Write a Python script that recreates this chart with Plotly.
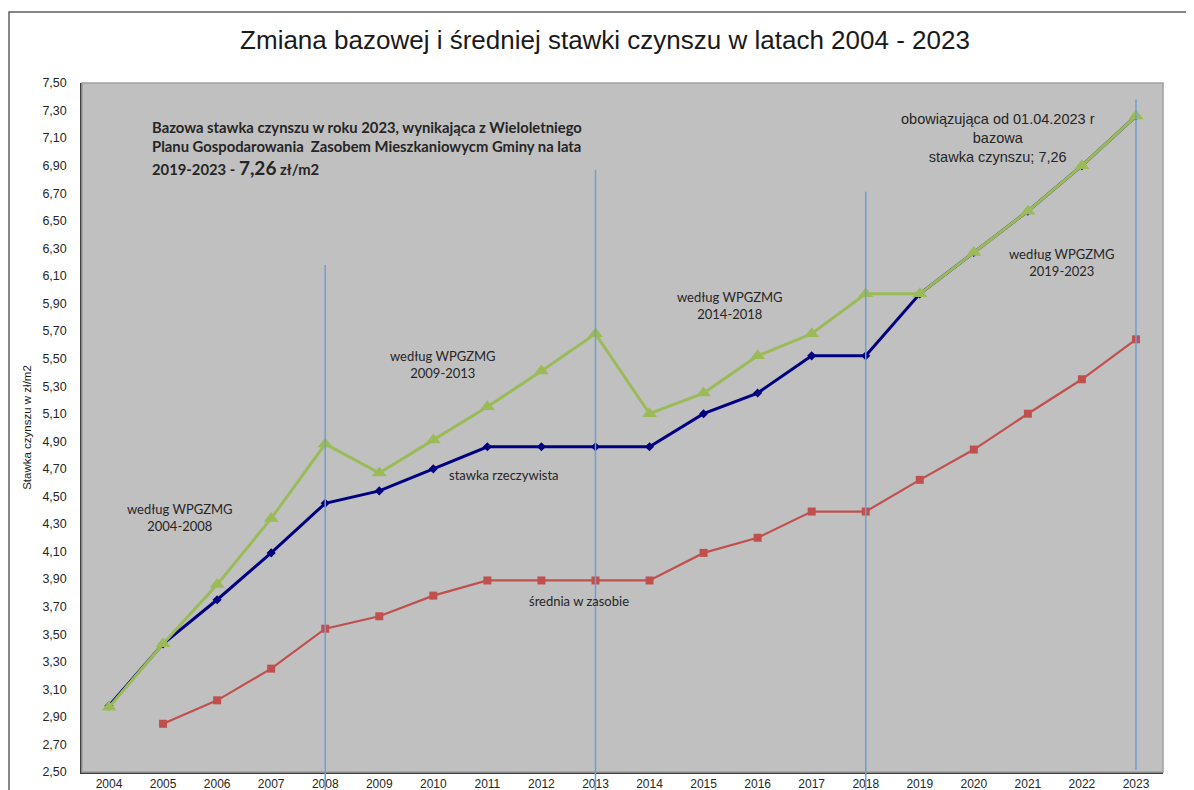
import plotly.graph_objects as go

years = list(range(2004, 2024))
plan_rate = [2.97, 3.43, 3.86, 4.34, 4.88, 4.67, 4.91, 5.15, 5.41, 5.68,
             5.10, 5.25, 5.52, 5.68, 5.97, 5.97, 6.27, 6.57, 6.90, 7.26]
actual_rate = [2.98, 3.43, 3.75, 4.09, 4.45, 4.54, 4.70, 4.86, 4.86, 4.86,
               4.86, 5.10, 5.25, 5.52, 5.52, 5.97, 6.27, 6.57, 6.90, 7.26]
avg_years = list(range(2005, 2024))
avg_rate = [2.85, 3.02, 3.25, 3.54, 3.63, 3.78, 3.89, 3.89, 3.89, 3.89,
            4.09, 4.20, 4.39, 4.39, 4.62, 4.84, 5.10, 5.35, 5.64]
period_years = [2008, 2013, 2018, 2023]
period_tops = [6.18, 6.87, 6.71, 7.38]
y_ticks = [round(2.5 + 0.2 * i, 2) for i in range(26)]

YMIN, YMAX = 2.5, 7.5
OFF = 8  # page body margin in the browser
W, H = 1194 - OFF, 790 - OFF
L, R, T, B = 82 - OFF, 1163 - OFF, 83 - OFF, 772 - OFF

def py(v):
    return (v - YMIN) / (YMAX - YMIN)

def ppx(px):  # reference pixel -> paper x
    return (px - OFF - L) / (R - L)

def ppy(pyx):  # reference pixel -> paper y
    return (B - (pyx - OFF)) / (B - T)

fig = go.Figure()

fig.add_trace(go.Scatter(x=years, y=actual_rate, mode="lines+markers",
                         line=dict(color="#000080", width=3),
                         marker=dict(symbol="diamond", size=7, color="#000080"),
                         name="stawka rzeczywista"))
fig.add_trace(go.Scatter(x=years, y=plan_rate, mode="lines+markers",
                         line=dict(color="#9bbb59", width=3),
                         marker=dict(symbol="triangle-up", size=13, color="#9bbb59"),
                         name="według WPGZMG"))
fig.add_trace(go.Scatter(x=avg_years, y=avg_rate, mode="lines+markers",
                         line=dict(color="#c0504d", width=2.2),
                         marker=dict(symbol="square", size=8, color="#c0504d"),
                         name="średnia w zasobie"))

shapes = []
# outer chart frame
shapes.append(dict(type="rect", xref="paper", yref="paper",
                   x0=ppx(9), x1=1.1, y0=-0.2, y1=ppy(12),
                   line=dict(color="#606060", width=1.5), fillcolor="rgba(0,0,0,0)",
                   layer="below"))
# plot area border (light top/right)
shapes.append(dict(type="rect", xref="paper", yref="paper", x0=0, x1=1, y0=0, y1=1,
                   line=dict(color="#a0a0a0", width=1.5), fillcolor="rgba(0,0,0,0)"))
for yr, top in zip(period_years, period_tops):
    bottom = ppy(792) if yr != 2023 else ppy(770)
    shapes.append(dict(type="line", xref="x", yref="paper", x0=yr, x1=yr,
                       y0=bottom, y1=py(top),
                       line=dict(color="#6a9fd8", width=1.5)))

cal = "Lato, Open Sans, sans-serif"
ar = "Liberation Sans, Arial, sans-serif"
txt = "#262626"
bold_lines = [
    ("<b>Bazowa stawka czynszu w roku 2023, wynikająca z Wieloletniego</b>", 127),
    ("<b>Planu Gospodarowania  Zasobem Mieszkaniowycm Gminy na lata</b>", 146),
    ("<b>2019-2023 - <span style='font-size:19px'>7,26</span> zł/m2</b>", 168),
]
annotations = []
for t, ypix in bold_lines:
    annotations.append(dict(x=ppx(150), y=ppy(ypix), xref="paper", yref="paper",
                            xanchor="left", yanchor="middle", align="left", showarrow=False,
                            text=t, font=dict(family=cal, size=14.8, color=txt)))
annotations += [
    dict(x=2005.31, y=4.35, text="według WPGZMG<br>2004-2008", showarrow=False,
         font=dict(family=cal, size=13, color=txt)),
    dict(x=2010.17, y=5.46, text="według WPGZMG<br>2009-2013", showarrow=False,
         font=dict(family=cal, size=13, color=txt)),
    dict(x=2015.49, y=5.885, text="według WPGZMG<br>2014-2018", showarrow=False,
         font=dict(family=cal, size=13, color=txt)),
    dict(x=2021.63, y=6.20, text="według WPGZMG<br>2019-2023", showarrow=False,
         font=dict(family=cal, size=13, color=txt)),
    dict(x=2011.30, y=4.655, text="stawka rzeczywista", showarrow=False,
         font=dict(family=cal, size=13, color=txt)),
    dict(x=2012.70, y=3.74, text="średnia w zasobie", showarrow=False,
         font=dict(family=cal, size=13, color=txt)),
    dict(x=2020.44, y=7.10, text="obowiązująca od 01.04.2023 r<br>bazowa<br>stawka czynszu; 7,26",
         showarrow=False, font=dict(family=ar, size=14.5, color=txt)),
]

fig.update_layout(
    width=W, height=H,
    margin=dict(l=L, r=W - R, t=T, b=H - B, pad=0, autoexpand=False),
    paper_bgcolor="white", plot_bgcolor="#c0c0c0",
    separators=", ",
    showlegend=False,
    title=dict(text="Zmiana bazowej i średniej stawki czynszu w latach 2004 - 2023",
               x=(605 - OFF) / W, xanchor="center", y=1 - (40 - OFF) / H, yanchor="middle",
               font=dict(family=ar, size=26, color="#1a1a1a")),
    shapes=shapes,
    annotations=annotations,
)
fig.update_xaxes(range=[2003.5, 2023.5], tickmode="array", tickvals=years,
                 ticktext=[str(y) for y in years], showgrid=False, zeroline=False,
                 showline=True, linecolor="#404040", linewidth=1.5, ticks="",
                 automargin=False,
                 tickfont=dict(family=ar, size=12, color="#262626"), ticklabelstandoff=0)
fig.update_yaxes(range=[YMIN, YMAX], tickmode="array", tickvals=y_ticks,
                 tickformat=".2f", showgrid=False, zeroline=False,
                 showline=True, linecolor="#404040", linewidth=1.5, ticks="",
                 automargin=False,
                 tickfont=dict(family=ar, size=12.5, color="#262626"), ticklabelstandoff=11,
                 title=dict(text="Stawka czynszu w zł/m2", standoff=8,
                            font=dict(family=ar, size=11.5, color="#1a1a1a")))

fig.write_html("out.html")
